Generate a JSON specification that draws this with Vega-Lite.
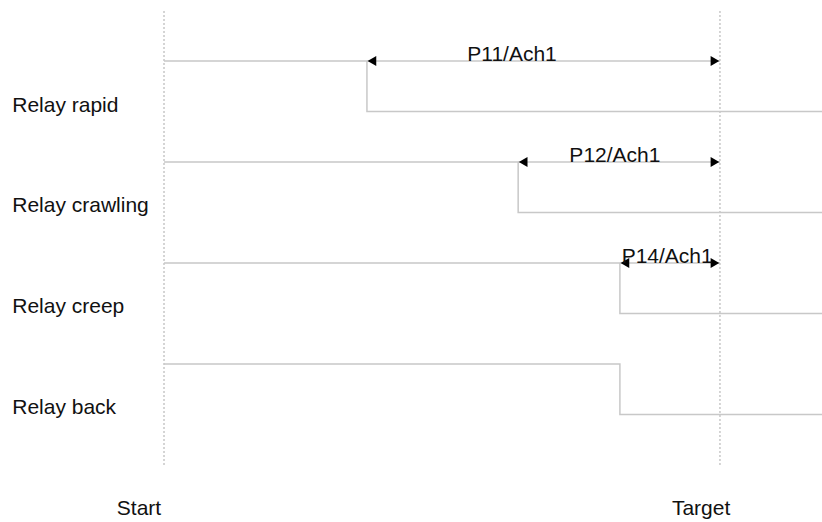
{
  "$schema": "https://vega.github.io/schema/vega-lite/v6.json",
  "width": 822,
  "height": 522,
  "autosize": {"type": "none"},
  "padding": 0,
  "background": "white",
  "view": {"stroke": null},
  "config": {"font": "Liberation Sans"},
  "datasets": {
    "markers": [
      {"name": "Start", "t": 0, "v0": 0, "v1": 9},
      {"name": "Target", "t": 100, "v0": 0, "v1": 9}
    ],
    "signals": [
      {"relay": "Relay rapid", "seq": 1, "t": 0, "v": 8},
      {"relay": "Relay rapid", "seq": 2, "t": 36.5, "v": 7},
      {"relay": "Relay rapid", "seq": 3, "t": 118.35, "v": 7},
      {"relay": "Relay crawling", "seq": 1, "t": 0, "v": 6},
      {"relay": "Relay crawling", "seq": 2, "t": 63.7, "v": 5},
      {"relay": "Relay crawling", "seq": 3, "t": 118.35, "v": 5},
      {"relay": "Relay creep", "seq": 1, "t": 0, "v": 4},
      {"relay": "Relay creep", "seq": 2, "t": 82.0, "v": 3},
      {"relay": "Relay creep", "seq": 3, "t": 118.35, "v": 3},
      {"relay": "Relay back", "seq": 1, "t": 0, "v": 2},
      {"relay": "Relay back", "seq": 2, "t": 82.0, "v": 1},
      {"relay": "Relay back", "seq": 3, "t": 118.35, "v": 1}
    ],
    "arrows": [
      {"label": "P11/Ach1", "t0": 36.5, "t1": 100, "v": 8, "tl": 62.6},
      {"label": "P12/Ach1", "t0": 63.7, "t1": 100, "v": 6, "tl": 81.1},
      {"label": "P14/Ach1", "t0": 82.0, "t1": 100, "v": 4, "tl": 90.5}
    ],
    "rowLabels": [
      {"label": "Relay rapid", "t": -27.3, "v": 7},
      {"label": "Relay crawling", "t": -27.3, "v": 5},
      {"label": "Relay creep", "t": -27.3, "v": 3},
      {"label": "Relay back", "t": -27.3, "v": 1}
    ],
    "bottomLabels": [
      {"label": "Start", "t": -4.5, "v": -1.0},
      {"label": "Target", "t": 96.6, "v": -1.0}
    ]
  },
  "layer": [
    {
      "data": {"name": "markers"},
      "mark": {"type": "rule", "color": "#aaaaaa", "strokeWidth": 1, "strokeDash": [2, 2]},
      "encoding": {
        "x": {"field": "t", "type": "quantitative", "scale": {"domain": [-29.5, 118.35], "nice": false, "zero": false}, "axis": null},
        "y": {"field": "v0", "type": "quantitative", "scale": {"domain": [-1.129, 9.208], "nice": false, "zero": false}, "axis": null},
        "y2": {"field": "v1"}
      }
    },
    {
      "data": {"name": "signals"},
      "mark": {"type": "line", "interpolate": "step-after", "color": "#c8c8c8", "strokeWidth": 1.5},
      "encoding": {
        "x": {"field": "t", "type": "quantitative", "scale": {"domain": [-29.5, 118.35], "nice": false, "zero": false}, "axis": null},
        "y": {"field": "v", "type": "quantitative", "scale": {"domain": [-1.129, 9.208], "nice": false, "zero": false}, "axis": null},
        "detail": {"field": "relay"},
        "order": {"field": "seq"}
      }
    },
    {
      "data": {"name": "arrows"},
      "mark": {"type": "rule", "color": "#c8c8c8", "strokeWidth": 1.5},
      "encoding": {
        "x": {"field": "t0", "type": "quantitative", "scale": {"domain": [-29.5, 118.35], "nice": false, "zero": false}, "axis": null},
        "x2": {"field": "t1"},
        "y": {"field": "v", "type": "quantitative", "scale": {"domain": [-1.129, 9.208], "nice": false, "zero": false}, "axis": null}
      }
    },
    {
      "data": {"name": "arrows"},
      "mark": {"type": "point", "shape": "triangle-left", "filled": true, "color": "black", "opacity": 1, "size": 100, "xOffset": 5},
      "encoding": {
        "x": {"field": "t0", "type": "quantitative", "scale": {"domain": [-29.5, 118.35], "nice": false, "zero": false}, "axis": null},
        "y": {"field": "v", "type": "quantitative", "scale": {"domain": [-1.129, 9.208], "nice": false, "zero": false}, "axis": null}
      }
    },
    {
      "data": {"name": "arrows"},
      "mark": {"type": "point", "shape": "triangle-right", "filled": true, "color": "black", "opacity": 1, "size": 100, "xOffset": -5},
      "encoding": {
        "x": {"field": "t1", "type": "quantitative", "scale": {"domain": [-29.5, 118.35], "nice": false, "zero": false}, "axis": null},
        "y": {"field": "v", "type": "quantitative", "scale": {"domain": [-1.129, 9.208], "nice": false, "zero": false}, "axis": null}
      }
    },
    {
      "data": {"name": "arrows"},
      "mark": {"type": "text", "align": "center", "baseline": "alphabetic", "fontSize": 21, "color": "#111111", "dy": 0},
      "encoding": {
        "x": {"field": "tl", "type": "quantitative", "scale": {"domain": [-29.5, 118.35], "nice": false, "zero": false}, "axis": null},
        "y": {"field": "v", "type": "quantitative", "scale": {"domain": [-1.129, 9.208], "nice": false, "zero": false}, "axis": null},
        "text": {"field": "label"}
      }
    },
    {
      "data": {"name": "rowLabels"},
      "mark": {"type": "text", "align": "left", "baseline": "alphabetic", "fontSize": 21, "color": "#111111"},
      "encoding": {
        "x": {"field": "t", "type": "quantitative", "scale": {"domain": [-29.5, 118.35], "nice": false, "zero": false}, "axis": null},
        "y": {"field": "v", "type": "quantitative", "scale": {"domain": [-1.129, 9.208], "nice": false, "zero": false}, "axis": null},
        "text": {"field": "label"}
      }
    },
    {
      "data": {"name": "bottomLabels"},
      "mark": {"type": "text", "align": "center", "baseline": "alphabetic", "fontSize": 21, "color": "#111111"},
      "encoding": {
        "x": {"field": "t", "type": "quantitative", "scale": {"domain": [-29.5, 118.35], "nice": false, "zero": false}, "axis": null},
        "y": {"field": "v", "type": "quantitative", "scale": {"domain": [-1.129, 9.208], "nice": false, "zero": false}, "axis": null},
        "text": {"field": "label"}
      }
    }
  ]
}
